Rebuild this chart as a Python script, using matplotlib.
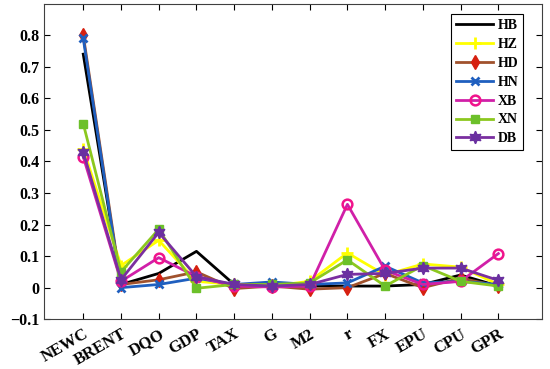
import matplotlib.pyplot as plt

# values
categories = ["NEWC", "BRENT", "DQO", "GDP", "TAX", "G", "M2", "r", "FX", "EPU", "CPU", "GPR"]
hb = [0.74, 0.01, 0.045, 0.115, 0.01, 0.005, 0.005, 0.005, 0.005, 0.01, 0.04, 0.005]
hz = [0.44, 0.07, 0.15, 0.02, 0.01, 0.005, 0.02, 0.11, 0.04, 0.075, 0.065, 0.01]
hd = [0.80, 0.01, 0.025, 0.05, -0.003, 0.005, -0.005, 0.0, 0.045, 0.0, 0.03, 0.005]
hn = [0.79, 0.0, 0.01, 0.03, 0.01, 0.018, 0.01, 0.015, 0.068, 0.015, 0.02, 0.01]
xb = [0.415, 0.02, 0.095, 0.035, 0.005, 0.002, 0.005, 0.264, 0.055, 0.01, 0.02, 0.108]
xn = [0.52, 0.05, 0.185, -0.002, 0.01, 0.01, 0.015, 0.088, 0.005, 0.07, 0.02, 0.005]
db = [0.43, 0.025, 0.175, 0.035, 0.01, 0.005, 0.01, 0.042, 0.045, 0.062, 0.062, 0.023]
ytick_vals = [-0.1, 0, 0.1, 0.2, 0.3, 0.4, 0.5, 0.6, 0.7, 0.8]
ytick_labels = ["\u22120.1", "0", "0.1", "0.2", "0.3", "0.4", "0.5", "0.6", "0.7", "0.8"]

series = [
    ("HB", hb, dict(color="black", marker=None)),
    ("HZ", hz, dict(color="#FFFF00", marker="+", markersize=8, markeredgewidth=2)),
    ("HD", hd, dict(color="#A0522D", marker="d", markersize=7, markerfacecolor="#D62010",
                    markeredgecolor="#D62010")),
    ("HN", hn, dict(color="#1F5FBF", marker="x", markersize=6, markeredgewidth=2)),
    ("XB", xb, dict(color="#D020A8", marker="o", markersize=7, markerfacecolor="none",
                    markeredgecolor="#F0148C", markeredgewidth=1.8)),
    ("XN", xn, dict(color="#8CC81E", marker="s", markersize=6, markerfacecolor="#6CC02A",
                    markeredgecolor="#6CC02A")),
    ("DB", db, dict(color="#7A2FA0", marker=(6, 1, 0), markersize=9, markerfacecolor="#6A30A0",
                    markeredgecolor="#6A30A0")),
]

plt.rcParams["font.family"] = ["Liberation Serif", "DejaVu Serif"]
plt.rcParams["font.weight"] = "bold"

fig, ax = plt.subplots(figsize=(5.5, 3.69), dpi=100)
fig.subplots_adjust(left=0.08, right=0.985, top=0.99, bottom=0.135)

x = list(range(1, len(categories) + 1))
for name, vals, style in series:
    ax.plot(x, vals, linewidth=2, label=name, **style)

ax.set_xlim(-0.04, 13.15)
ax.set_ylim(-0.1, 0.9)
ax.set_xticks(x)
ax.set_xticklabels(categories, rotation=30, fontsize=12, fontweight="bold",
                   ha="right", va="top", rotation_mode="anchor")
ax.set_yticks(ytick_vals)
ax.set_yticklabels(ytick_labels, fontsize=11.5, fontweight="bold")
ax.tick_params(direction="in", top=True, right=True, length=4, width=0.8, pad=3)
ax.tick_params(axis="x", pad=5)
for s in ax.spines.values():
    s.set_color("#404040")
    s.set_linewidth(0.8)

leg = ax.legend(loc="upper right", bbox_to_anchor=(0.968, 0.975), fontsize=10,
                handlelength=2.7, handletextpad=0.3, labelspacing=0.42, borderpad=0.35,
                borderaxespad=0.2, fancybox=False, framealpha=1, edgecolor="black")
leg.get_frame().set_linewidth(0.8)

fig.savefig("out.png", dpi=100)
